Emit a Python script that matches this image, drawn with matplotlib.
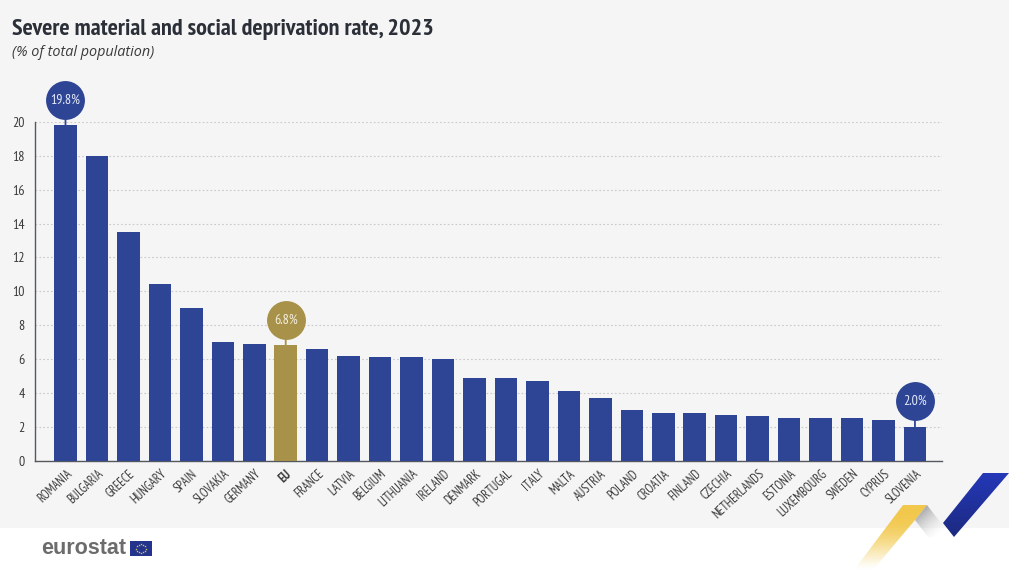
import matplotlib
matplotlib.use("Agg")
import matplotlib.pyplot as plt
import numpy as np
from matplotlib.patches import Polygon, Rectangle
from matplotlib.transforms import offset_copy

countries = ["ROMANIA", "BULGARIA", "GREECE", "HUNGARY", "SPAIN", "SLOVAKIA", "GERMANY",
             "EU", "FRANCE", "LATVIA", "BELGIUM", "LITHUANIA", "IRELAND", "DENMARK",
             "PORTUGAL", "ITALY", "MALTA", "AUSTRIA", "POLAND", "CROATIA", "FINLAND",
             "CZECHIA", "NETHERLANDS", "ESTONIA", "LUXEMBOURG", "SWEDEN", "CYPRUS", "SLOVENIA"]
rates = [19.8, 18.0, 13.5, 10.4, 9.0, 7.0, 6.9, 6.8, 6.6, 6.2, 6.1, 6.1, 6.0, 4.9,
         4.9, 4.7, 4.1, 3.7, 3.0, 2.8, 2.8, 2.7, 2.6, 2.5, 2.5, 2.5, 2.4, 2.0]
yticks = [0, 2, 4, 6, 8, 10, 12, 14, 16, 18, 20]
callouts = ["ROMANIA", "EU", "SLOVENIA"]

W, H = 1009, 570
BLUE = "#2e4595"
GOLD = "#a8924a"
BG = "#f5f5f5"
# condensed faces first, plain Liberation if they are missing
NARROW = ["PT Sans Narrow", "Fira Sans Condensed", "Liberation Sans"]

fig = plt.figure(figsize=(W / 100, H / 100), dpi=100, facecolor="white")
fig.patches.append(Rectangle((0, (H - 528) / H), 1, 528 / H, transform=fig.transFigure,
                             facecolor=BG, edgecolor="none", zorder=-5))

# axes placed so that 0 and 20 fall on the same pixels as the original
ax = fig.add_axes([34.5 / W, (H - 460.5) / H, (942 - 34.5) / W, (460.5 - 122) / H])
ax.patch.set_alpha(0)

x = np.arange(len(countries))
bar_colors = [GOLD if c == "EU" else BLUE for c in countries]
ax.bar(x, rates, width=0.715, color=bar_colors, zorder=3)

ax.set_xlim(-0.985, 27.86)
ax.set_ylim(0, 20)
ax.set_yticks(yticks)
ax.set_xticks(x)
ax.set_xticklabels(countries, rotation=43, ha="right", va="top", rotation_mode="anchor",
                   fontsize=9, family=NARROW, color="#3a3a3a")
ax.get_xticklabels()[countries.index("EU")].set_fontweight("bold")
for lab in ax.get_yticklabels():
    lab.set_family(NARROW)
    lab.set_fontsize(10)
    lab.set_color("#3a3a3a")
ax.tick_params(axis="both", length=0)
ax.tick_params(axis="x", pad=5)
ax.tick_params(axis="y", pad=7)
ax.grid(axis="y", color="#c9c9c9", linestyle=(0, (1.5, 2)), linewidth=0.8, zorder=0)
ax.set_axisbelow(True)
for s in ["top", "right"]:
    ax.spines[s].set_visible(False)
for s in ["left", "bottom"]:
    ax.spines[s].set_color("#55585f")
    ax.spines[s].set_linewidth(1)

# bubbles above the highlighted bars
bubble_off = 18.4
bubble_tr = offset_copy(ax.transData, fig=fig, y=bubble_off, units="points")
for name in callouts:
    i = countries.index(name)
    c = GOLD if name == "EU" else BLUE
    ax.annotate("", xy=(i, rates[i]), xytext=(0, bubble_off), textcoords="offset points",
                arrowprops=dict(arrowstyle="-", color=c, lw=1.3, shrinkA=0, shrinkB=0),
                annotation_clip=False, zorder=4)
    ax.plot([i], [rates[i]], "o", ms=28, color=c, mec="none", transform=bubble_tr,
            clip_on=False, zorder=5)
    ax.text(i, rates[i], f"{rates[i]:.1f}%", transform=bubble_tr, ha="center", va="center",
            color="#f4efe0" if name == "EU" else "#e6ecfb", fontsize=10, family=NARROW,
            clip_on=False, zorder=6)

fig.text(12 / W, 1 - 30 / H, "Severe material and social deprivation rate, 2023", fontsize=17.4,
         family=NARROW, fontweight="bold", color="#2b2f38", va="center")
fig.text(12 / W, 1 - 53 / H, "(% of total population)", fontsize=10.4, family="Open Sans",
         style="italic", color="#3a3a3a", va="center")

# overlay in pixel coordinates for the logo and corner shapes
deco = fig.add_axes([0, 0, 1, 1], zorder=10)
deco.set_xlim(0, W)
deco.set_ylim(H, 0)
deco.axis("off")
deco.patch.set_alpha(0)


def gradient_shape(pts, start, end, extent, direction, power=1):
    # linear gradient along a direction, clipped to a polygon
    x0, x1, y1, y0 = extent
    xs, ys = np.meshgrid(np.linspace(0, 1, 80), np.linspace(0, 1, 80))
    t = np.clip(xs * direction[0] + ys * direction[1], 0, 1) ** power
    start, end = np.array(matplotlib.colors.to_rgba(start)), np.array(matplotlib.colors.to_rgba(end))
    img = start[None, None, :] * (1 - t[..., None]) + end[None, None, :] * t[..., None]
    im = deco.imshow(img, extent=(x0, x1, y1, y0), origin="upper", aspect="auto", zorder=2)
    poly = Polygon(pts, closed=True, facecolor="none", edgecolor="none", transform=deco.transData)
    deco.add_patch(poly)
    im.set_clip_path(poly)


gradient_shape([(903, 505), (927, 505), (915, 520), (873, 570), (854, 570)],
               "#f2c84b", (0.98, 0.93, 0.75, 0.0), (854, 927, 570, 505), (0, 1), power=2.5)
gradient_shape([(927, 505), (915, 520), (928, 537), (952, 537)],
               "#808084", (1, 1, 1, 0.3), (915, 952, 537, 505), (0.65, 0.65))
gradient_shape([(983, 473), (1009, 473), (954, 537), (943, 523)],
               "#2438b8", "#1c2a80", (943, 1009, 537, 473), (0, 1))
deco.set_xlim(0, W)
deco.set_ylim(H, 0)

deco.text(41, 548, "eurostat", fontsize=15.5, family="Liberation Sans", fontweight="bold",
          color="#6c6c6c", va="center", ha="left")
deco.add_patch(Rectangle((130, 541), 22, 15, facecolor="#24348c", edgecolor="none"))
angles = np.arange(12) * np.pi / 6
deco.plot(141 + 4.6 * np.cos(angles), 548.5 + 4.6 * np.sin(angles), ls="none", marker="*",
          ms=1.8, color="#d8c860", mew=0)

fig.savefig("out.png", dpi=100, facecolor=fig.get_facecolor())
